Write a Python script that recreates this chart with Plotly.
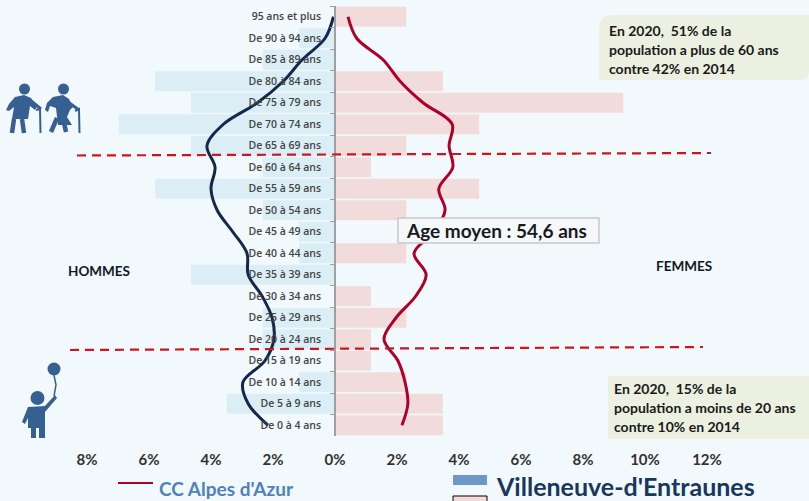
import plotly.graph_objects as go

W, H = 809, 501
ages = ["95 ans et plus", "De 90 à 94 ans", "De 85 à 89 ans", "De 80 à 84 ans", "De 75 à 79 ans",
        "De 70 à 74 ans", "De 65 à 69 ans", "De 60 à 64 ans", "De 55 à 59 ans", "De 50 à 54 ans",
        "De 45 à 49 ans", "De 40 à 44 ans", "De 35 à 39 ans", "De 30 à 34 ans", "De 25 à 29 ans",
        "De 20 à 24 ans", "De 15 à 19 ans", "De 10 à 14 ans", "De 5 à 9 ans", "De 0 à 4 ans"]
hommes_commune = [0, -1.16, -2.33, -5.8, -4.65, -6.97, -4.65, -2.33, -5.8, -2.33,
                  -1.16, -1.16, -4.65, 0, -2.33, -2.33, 0, -1.16, -3.49, 0]
femmes_commune = [2.3, 0, 0, 3.48, 9.3, 4.65, 2.3, 1.16, 4.65, 2.3,
                  0, 2.3, 0, 1.16, 2.3, 1.16, 1.16, 2.3, 3.48, 3.48]
hommes_cc = [-0.05, -0.32, -1.06, -1.67, -2.5, -3.6, -4.13, -3.87, -4.0, -3.8,
             -3.3, -2.84, -2.8, -2.35, -2.03, -1.97, -2.26, -2.97, -2.8, -2.16]
femmes_cc = [0.42, 0.7, 1.55, 2.1, 2.84, 3.78, 3.68, 3.8, 3.35, 3.55,
             3.2, 2.55, 2.94, 2.6, 1.97, 1.58, 2.03, 2.26, 2.35, 2.16]
x_ticks = [-8, -6, -4, -2, 0, 2, 4, 6, 8, 10, 12]
x_labels = ["8%", "6%", "4%", "2%", "0%", "2%", "4%", "6%", "8%", "10%", "12%"]

X0, SCALE = 335, 31.0
fx = lambda p: p / W
fy = lambda p: 1 - p / H

def path(*cmds):
    out = []
    for c in cmds:
        if isinstance(c, str):
            out.append(c)
        else:
            out.append(f"{fx(c[0]):.5f},{fy(c[1]):.5f}")
    return " ".join(out)

def poly(pts):
    return "M " + " L ".join(f"{fx(a):.5f},{fy(b):.5f}" for a, b in pts) + " Z"

def smooth_line(pts):
    return "M " + " L ".join(f"{fx(a):.5f},{fy(b):.5f}" for a, b in pts)

fig = go.Figure()
fig.add_bar(y=ages, x=hommes_commune, orientation="h", marker=dict(color="#DCEEF5", line=dict(width=0)), showlegend=False)
fig.add_bar(y=ages, x=femmes_commune, orientation="h", marker=dict(color="#F2DCDB", line=dict(width=0)), showlegend=False)
fig.add_scatter(y=ages, x=hommes_cc, mode="lines", line=dict(color="#14284B", width=3, shape="spline", smoothing=1.0), showlegend=False)
fig.add_scatter(y=ages, x=femmes_cc, mode="lines", line=dict(color="#B0002A", width=3, shape="spline", smoothing=1.0), showlegend=False)

shapes = []
def add(kind="path", **k):
    d = dict(type=kind, xref="paper", yref="paper", layer="above")
    d.update(k)
    shapes.append(d)

def circle(cx, cy, r, col):
    add("circle", x0=fx(cx - r), x1=fx(cx + r), y0=fy(cy + r), y1=fy(cy - r), fillcolor=col, line=dict(width=0))

def stroke(pts, col, w):
    add(path=smooth_line(pts), line=dict(color=col, width=w), fillcolor="rgba(0,0,0,0)")

def fill(pts, col):
    add(path=poly(pts), fillcolor=col, line=dict(width=0))

# reference lines
add("line", x0=fx(77), x1=fx(711), y0=fy(155.5), y1=fy(153), line=dict(color="#D0141E", width=2.2, dash="9px,6px"))
add("line", x0=fx(70), x1=fx(703), y0=fy(350), y1=fy(347), line=dict(color="#D0141E", width=2.2, dash="9px,6px"))

# note boxes
c = "#ECF0E0"
add(path=path("M", (612, 15), "L", (809, 15), "L", (809, 71), "Q", (809, 80), (800, 80), "L", (599, 80), "L", (599, 28), "Q", (599, 15), (612, 15), "Z"),
    fillcolor=c, line=dict(width=0), layer="below")
add("rect", x0=fx(608), x1=fx(809), y0=fy(439), y1=fy(376), fillcolor=c, line=dict(width=0), layer="below")
# average age box
add("rect", x0=fx(398), x1=fx(599), y0=fy(243), y1=fy(218), fillcolor="#F4F8FA", line=dict(color="#C8C8C8", width=1.5))

# icons
B = "#376092"
# woman
circle(24.5, 89, 5.5, B)
fill([(9, 104), (15, 97), (24, 95), (31, 98), (37, 107), (35, 110), (30, 106), (28, 119), (12, 119), (14, 107), (9, 111), (6, 110)], B)
stroke([(30, 100), (41, 109)], B, 3)
stroke([(14, 119), (12, 133)], B, 4.5)
stroke([(22, 119), (24, 133)], B, 4.5)
stroke([(36, 110), (40, 109), (40.5, 133)], B, 2)
# man
circle(63.5, 89, 5.5, B)
fill([(47, 103), (53, 97), (63, 95), (69, 99), (73, 107), (70, 110), (67, 117), (72, 125), (58, 125), (56, 108), (50, 106), (48, 112), (45, 110)], B)
stroke([(68, 102), (79, 110)], B, 3)
stroke([(57, 118), (51, 132)], B, 4.5)
stroke([(63, 118), (66, 132)], B, 4.5)
stroke([(75, 111), (79, 109), (79.5, 133)], B, 2)
# child
circle(54, 369, 6.5, B)
stroke([(54, 375), (56, 385), (54, 396)], B, 1.5)
circle(37.5, 398, 7, B)
fill([(28, 407), (45, 406), (55, 395), (57, 398), (45, 412), (45, 428), (48, 428), (28, 428), (28, 418), (25, 424), (22, 422)], B)
fill([(31, 428), (36, 428), (36, 438), (31, 438)], B)
fill([(39, 428), (45, 428), (45, 438), (39, 438)], B)

# legend keys
add("line", x0=fx(118), x1=fx(153), y0=fy(483), y1=fy(483), line=dict(color="#B0002A", width=2))
add("rect", x0=fx(453), x1=fx(487), y0=fy(485), y1=fy(475), fillcolor="#6F97C8", line=dict(width=0))
add("rect", x0=fx(453), x1=fx(487), y0=fy(502), y1=fy(496), fillcolor="#F2DCDB", line=dict(color="#000000", width=1))

def note(text, cx, cy, size, col="#1A1A1A", anchor="left", family="Lato"):
    return dict(text=f"<b>{text}</b>", x=fx(cx), y=fy(cy), xref="paper", yref="paper", showarrow=False,
                xanchor=anchor, yanchor="middle", font=dict(size=size, color=col, family=family))

anns = [
    note("En 2020,  51% de la", 607, 31, 14),
    note("population a plus de 60 ans", 607, 50, 14),
    note("contre 42% en 2014", 607, 69, 14),
    note("En 2020,  15% de la", 612, 388, 14),
    note("population a moins de 20 ans", 612, 407, 14),
    note("contre 10% en 2014", 612, 426, 14),
    note("Age moyen : 54,6 ans", 404, 230.5, 19),
    note("HOMMES", 66, 270.5, 13.5, "#111827"),
    note("FEMMES", 654, 266, 13.5, "#111827"),
    note("CC Alpes d'Azur", 157, 488, 19, "#4F81BD"),
    note("Villeneuve-d'Entraunes", 494, 486, 25, "#17375E"),
]

fig.update_layout(
    width=W, height=H, margin=dict(l=0, r=0, t=0, b=0), autosize=False,
    paper_bgcolor="#F2F9FC", plot_bgcolor="rgba(0,0,0,0)",
    barmode="overlay", bargap=0.06, showlegend=False,
    shapes=shapes, annotations=anns,
    xaxis=dict(domain=[0, 1], range=[(0 - X0) / SCALE, (W - X0) / SCALE], tickmode="array", tickvals=x_ticks, ticktext=x_labels,
               showgrid=False, zeroline=False, showline=False, ticks="", anchor="free", position=fy(449),
               tickfont=dict(family="Lato", size=15, color="#333333", weight=700)),
    yaxis=dict(domain=[fy(436), fy(6)], type="category", categoryorder="array", categoryarray=ages,
               range=[19.5, -0.5], anchor="free", position=X0 / W, side="left", showgrid=False, zeroline=False,
               showline=True, linecolor="#A0A0A0", linewidth=1.5, ticks="outside", ticklen=4, tickcolor="#A0A0A0",
               tickson="boundaries", ticklabelstandoff=11,
               tickfont=dict(family="Open Sans", size=10.5, color="#444444", weight=600)),
)
fig.write_html("out.html", config=dict(displayModeBar=False),
               post_script="document.body.style.margin='0';document.documentElement.style.overflow='hidden';document.documentElement.style.background='#F2F9FC';")
